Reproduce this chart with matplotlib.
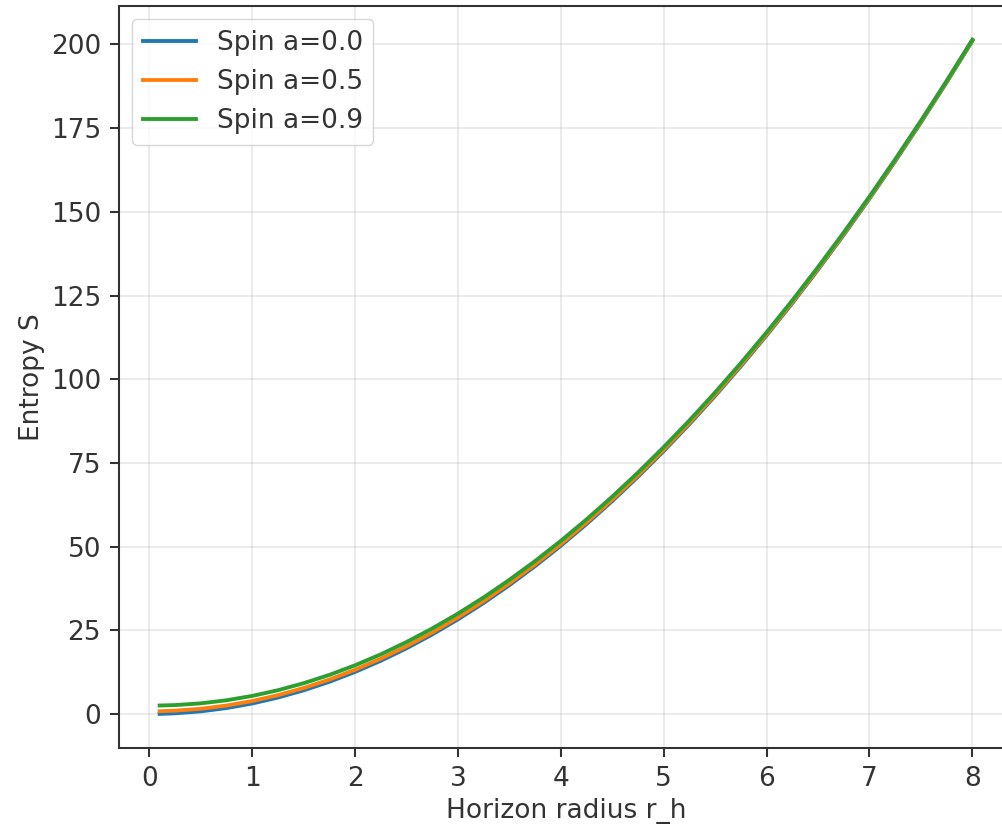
import numpy as np
import matplotlib.pyplot as plt

# values (entropy vs horizon radius)
r_h = [0.1, 0.25, 0.5, 0.75, 1.0, 1.25, 1.5, 1.75, 2.0, 2.25, 2.5, 2.75, 3.0, 3.25, 3.5, 3.75,
       4.0, 4.25, 4.5, 4.75, 5.0, 5.25, 5.5, 5.75, 6.0, 6.25, 6.5, 6.75, 7.0, 7.25, 7.5, 7.75, 8.0]
s_a00 = [0.03, 0.20, 0.79, 1.77, 3.14, 4.91, 7.07, 9.62, 12.57, 15.90, 19.63, 23.76, 28.27, 33.18, 38.48, 44.18,
         50.27, 56.75, 63.62, 70.88, 78.54, 86.59, 95.03, 103.87, 113.10, 122.72, 132.73, 143.14, 153.94, 165.13, 176.71, 188.69, 201.06]
s_a05 = [0.83, 0.99, 1.56, 2.52, 3.87, 5.62, 7.76, 10.29, 13.22, 16.54, 20.25, 24.36, 28.85, 33.74, 39.03, 44.70,
         50.77, 57.23, 64.09, 71.33, 78.97, 87.00, 95.42, 104.24, 113.45, 123.05, 133.04, 143.43, 154.22, 165.39, 176.95, 188.91, 201.26]
s_a09 = [2.53, 2.66, 3.18, 4.10, 5.40, 7.10, 9.20, 11.68, 14.56, 17.83, 21.50, 25.56, 30.00, 34.84, 40.09, 45.71,
         51.73, 58.15, 64.95, 72.14, 79.74, 87.72, 96.09, 104.87, 114.03, 123.58, 133.53, 143.87, 154.60, 165.73, 177.25, 189.15, 201.46]
labels = ['Spin a=0.0', 'Spin a=0.5', 'Spin a=0.9']

sc = 1.85
plt.rcParams['font.size'] = 19
plt.rcParams['axes.linewidth'] = 0.8 * sc
for ax_ in ['xtick', 'ytick']:
    plt.rcParams[ax_ + '.major.size'] = 3.5 * sc
    plt.rcParams[ax_ + '.major.width'] = 0.8 * sc
    plt.rcParams[ax_ + '.major.pad'] = 3.5 * sc
plt.rcParams['text.color'] = '#333333'
plt.rcParams['axes.labelcolor'] = '#333333'
plt.rcParams['xtick.color'] = '#333333'
plt.rcParams['ytick.color'] = '#333333'
plt.rcParams['axes.edgecolor'] = '#333333'

fig = plt.figure(figsize=(10.03, 8.35), dpi=100)
ax = fig.add_axes([119 / 1003, 1 - 748 / 835, (1013 - 119) / 1003, (748 - 6) / 835])

for ys, lab in zip([s_a00, s_a05, s_a09], labels):
    ax.plot(r_h, ys, lw=1.5 * sc, label=lab)

ax.set_ylim(-10.16, 211.5)
ax.set_xlabel('Horizon radius r_h')
ax.set_ylabel('Entropy S')
ax.grid(True, alpha=0.3, lw=0.8 * sc * 0.8)
ax.legend(loc='upper left')

fig.savefig('out.png', dpi=100)
